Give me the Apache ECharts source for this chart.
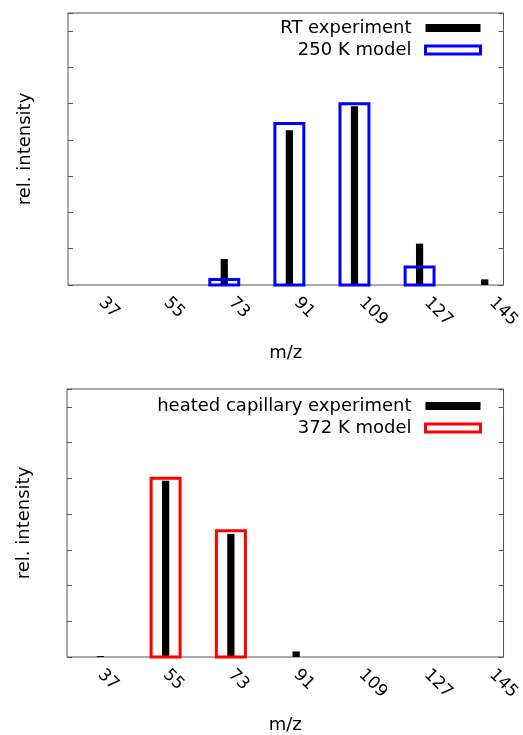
<!DOCTYPE html>
<html><head><meta charset="utf-8">
<script src="https://cdn.jsdelivr.net/npm/echarts@6/dist/echarts.min.js"></script>
<style>html,body{margin:0;padding:0;background:#fff}#c{width:523px;height:735px}</style>
</head><body><div id="c"></div>
<script>
// tick labels on the m/z axis
const tickLabels = [37, 55, 73, 91, 109, 127, 145];
// top panel
const topExpMz = [71, 89, 107, 125, 143];
const topExpVal = [0.143, 0.854, 0.986, 0.228, 0.031];
const topModelMz = [71, 89, 107, 125];
const topModelVal = [0.031, 0.891, 1.0, 0.099];
// bottom panel
const botExpMz = [37, 55, 73, 91];
const botExpVal = [0.005, 0.986, 0.689, 0.031];
const botModelMz = [55, 73];
const botModelVal = [1.0, 0.707];
const seriesNames = ['RT experiment', '250 K model', 'heated capillary experiment', '372 K model'];

const FONT = 'DejaVu Sans';
const pairs = (xs, ys) => xs.map((x, i) => [x, ys[i]]);

function xAx(grid) {
  return {
    type: 'value', gridIndex: grid, min: 27.8, max: 148.2,
    axisLine: {show: false}, axisTick: {show: false}, splitLine: {show: false},
    axisLabel: {show: true, customValues: tickLabels, rotate: -45, margin: 15,
      fontFamily: FONT, fontSize: 17, color: '#000'},
    name: 'm/z', nameLocation: 'middle', nameGap: 59,
    nameTextStyle: {fontFamily: FONT, fontSize: 18, color: '#000'}
  };
}
function yAx(grid, pos) {
  return {
    type: 'value', gridIndex: grid, min: 0, max: 1.5, interval: 0.2, position: pos,
    axisLine: {show: false}, splitLine: {show: false},
    axisTick: {show: true, inside: true, length: 5, lineStyle: {color: '#555', width: 1}},
    axisLabel: {show: false},
    name: pos === 'left' ? 'rel. intensity' : '', nameLocation: 'middle', nameGap: 34,
    nameRotate: 90,
    nameTextStyle: {fontFamily: FONT, fontSize: 18, color: '#000'}
  };
}
function boxRender(widthUnits, style) {
  return function (params, api) {
    const x = api.value(0), y = api.value(1);
    const p0 = api.coord([x, 0]);
    const p1 = api.coord([x, y]);
    const w = api.size([widthUnits, 0])[0];
    return {
      type: 'rect',
      shape: {x: p0[0] - w / 2, y: p1[1], width: w, height: p0[1] - p1[1]},
      style: style
    };
  };
}
function expSeries(name, x, y, data) {
  return {type: 'custom', name, xAxisIndex: x, yAxisIndex: y, data, silent: true,
    encode: {x: 0, y: 1}, itemStyle: {color: '#000'},
    renderItem: boxRender(2, {fill: '#000'})};
}
function modelSeries(name, x, y, data, col) {
  return {type: 'custom', name, xAxisIndex: x, yAxisIndex: y, data, silent: true, z: 3,
    encode: {x: 0, y: 1}, itemStyle: {color: col},
    renderItem: boxRender(8, {fill: 'none', stroke: col, lineWidth: 3})};
}
function legend(names, col, top) {
  return {
    orient: 'vertical', right: 41, top, align: 'right', itemWidth: 55, itemHeight: 8, itemGap: 4,
    padding: 0, selectedMode: false,
    textStyle: {fontFamily: FONT, fontSize: 18, color: '#000', padding: [0, 9, 0, 0]},
    data: [
      {name: names[0], icon: 'rect', itemStyle: {color: '#000', borderWidth: 0}},
      {name: names[1], icon: 'rect', itemStyle: {color: 'rgba(0,0,0,0)', borderColor: col, borderWidth: 3}}
    ]
  };
}

const chart = echarts.init(document.getElementById('c'), null, {renderer: 'canvas'});
chart.setOption({
  animation: false,
  backgroundColor: '#fff',
  grid: [
    {left: 68, right: 16, top: 13, height: 272, show: true, borderColor: '#555', borderWidth: 1},
    {left: 67, right: 17, top: 389, height: 272, show: true, borderColor: '#555', borderWidth: 1}
  ],
  xAxis: [xAx(0), xAx(1)],
  yAxis: [yAx(0, 'left'), yAx(0, 'right'), yAx(1, 'left'), yAx(1, 'right')],
  legend: [
    legend([seriesNames[0], seriesNames[1]], '#0000ff', 19),
    legend([seriesNames[2], seriesNames[3]], '#ff0000', 397)
  ],
  series: [
    expSeries(seriesNames[0], 0, 0, pairs(topExpMz, topExpVal)),
    modelSeries(seriesNames[1], 0, 0, pairs(topModelMz, topModelVal), '#0000ff'),
    expSeries(seriesNames[2], 1, 2, pairs(botExpMz, botExpVal)),
    modelSeries(seriesNames[3], 1, 2, pairs(botModelMz, botModelVal), '#ff0000')
  ]
});
</script></body></html>
